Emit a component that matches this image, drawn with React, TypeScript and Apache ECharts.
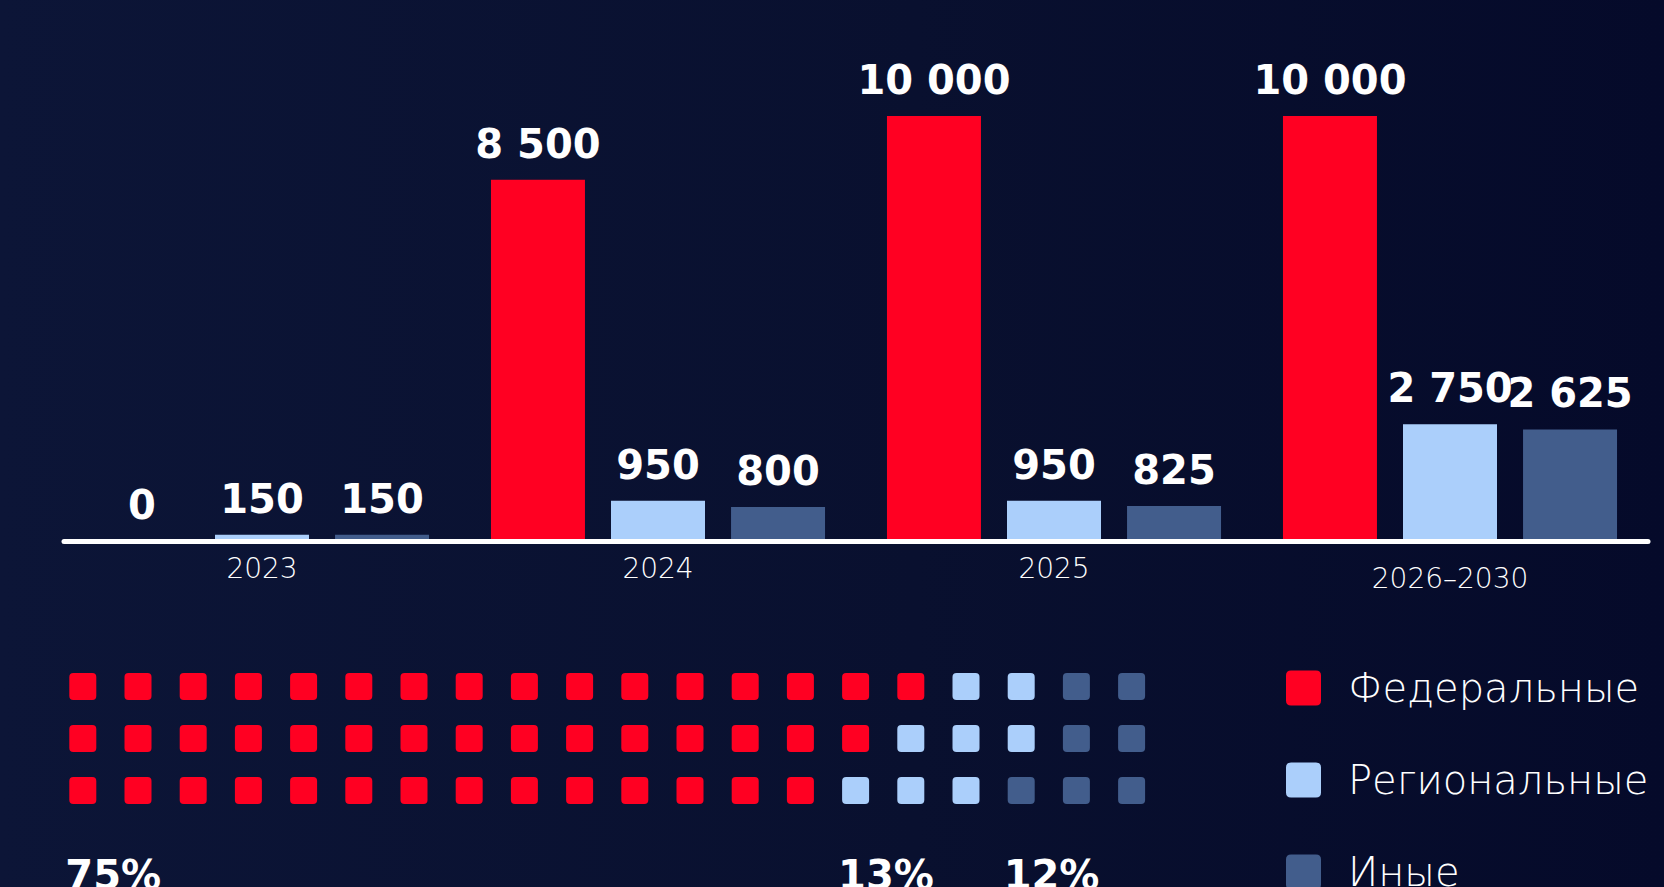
import React, { useEffect, useRef } from 'react';
import * as echarts from 'echarts';

// ---- data ----
const categories = ['2023', '2024', '2025', '2026–2030'];
const seriesNames = ['Федеральные', 'Региональные', 'Иные'];
const federal = [0, 8500, 10000, 10000];
const regional = [150, 950, 950, 2750];
const other = [150, 800, 825, 2625];
const waffleCounts = [45, 8, 7]; // cells per segment (out of 60)
const waffleColumns = 20;
const waffleRowsCount = 3;

const colors = ['#ff0022', '#abcffb', '#425d8c'];
const FONT = '"DejaVu Sans", "Noto Sans", sans-serif';

const fmt = (v: number) => String(v).replace(/\B(?=(\d{3})+(?!\d))/g, ' ');

// waffle layout: fill along anti-diagonals, bottom-left to top-right
function buildWaffle() {
  const cells: { col: number; row: number }[] = [];
  for (let c = 0; c < waffleColumns; c++)
    for (let r = 0; r < waffleRowsCount; r++) cells.push({ col: c, row: r });
  cells.sort((a, b) => a.col + a.row - (b.col + b.row) || b.row - a.row);
  const data: number[][] = [];
  let seg = 0;
  let used = 0;
  cells.forEach((cell) => {
    while (seg < waffleCounts.length - 1 && used >= waffleCounts[seg]) {
      seg++;
      used = 0;
    }
    data.push([cell.col, cell.row, seg]);
    used++;
  });
  return data;
}

export default function App() {
  const ref = useRef<HTMLDivElement>(null);
  useEffect(() => {
    if (!ref.current) return;
    const chart = echarts.init(ref.current, undefined, { renderer: 'svg' });
    const waffle = buildWaffle();
    const total = waffleCounts.reduce((a, b) => a + b, 0);
    const pctLabels = waffleCounts.map((c, i) => {
      const bottom = waffle.filter((d) => d[2] === i && d[1] === waffleRowsCount - 1);
      const col = Math.min(...bottom.map((d) => d[0]));
      return { col, text: Math.round((c / total) * 100) + '%' };
    });

    const barSeries = [federal, regional, other].map((vals, i) => ({
      name: seriesNames[i],
      type: 'bar',
      xAxisIndex: 0,
      yAxisIndex: 0,
      data: vals,
      barWidth: 94,
      barGap: '27.7%',
      itemStyle: { color: colors[i] },
      label: {
        show: true,
        position: 'top',
        distance: 16,
        color: '#ffffff',
        fontFamily: FONT,
        fontWeight: 'bold',
        fontSize: 40,
        formatter: (p: any) => fmt(p.value),
      },
    }));

    const iconPath = 'path://M5,0H30Q35,0 35,5V30Q35,35 30,35H5Q0,35 0,30V5Q0,0 5,0Z';

    chart.setOption({
      animation: false,
      backgroundColor: new echarts.graphic.LinearGradient(0, 0, 1, 0, [
        { offset: 0, color: '#0c1537' },
        { offset: 0.55, color: '#09102f' },
        { offset: 1, color: '#050a2a' },
      ]),
      grid: [
        { left: 64, right: 16, top: 116, bottom: 346 },
        { left: 55.2, width: 1104, top: 660.5, height: 156 },
      ],
      xAxis: [
        {
          type: 'category',
          gridIndex: 0,
          data: categories,
          z: 10,
          axisLine: { lineStyle: { color: '#ffffff', width: 5, cap: 'round' } },
          axisTick: { show: false },
          axisLabel: {
            color: '#ffffff',
            fontFamily: FONT,
            fontWeight: 200,
            fontSize: 28,
            margin: 13,
            formatter: (v: string) => (v.includes('–') ? `{low|${v}}` : v),
            rich: {
              low: {
                color: '#ffffff',
                fontFamily: FONT,
                fontWeight: 200,
                fontSize: 28,
                padding: [10, 0, 0, 0],
              },
            },
          },
        },
        {
          type: 'category',
          gridIndex: 1,
          data: Array.from({ length: waffleColumns }, (_, i) => String(i)),
          show: false,
        },
      ],
      yAxis: [
        { type: 'value', gridIndex: 0, min: 0, max: 10000, show: false },
        {
          type: 'category',
          gridIndex: 1,
          inverse: true,
          data: Array.from({ length: waffleRowsCount }, (_, i) => String(i)),
          show: false,
        },
      ],
      legend: {
        type: 'plain',
        data: seriesNames,
        orient: 'vertical',
        left: 1286,
        top: 668,
        height: 320,
        padding: 0,
        itemWidth: 35,
        itemHeight: 35,
        itemGap: 52,
        icon: iconPath,
        selectedMode: false,
        textStyle: {
          color: '#ffffff',
          fontFamily: FONT,
          fontWeight: 200,
          fontSize: 40,
          lineHeight: 35,
          padding: [0, 0, 0, 22],
        },
      },
      series: [
        ...barSeries,
        {
          type: 'custom',
          xAxisIndex: 1,
          yAxisIndex: 1,
          data: waffle,
          renderItem: (params: any, api: any) => {
            const c = api.coord([api.value(0), api.value(1)]);
            return {
              type: 'rect',
              shape: { x: c[0] - 13.5, y: c[1] - 13.5, width: 27, height: 27, r: 4 },
              style: { fill: colors[api.value(2)] },
            };
          },
        },
        {
          type: 'custom',
          xAxisIndex: 1,
          yAxisIndex: 1,
          data: pctLabels.map((p) => [p.col, waffleRowsCount - 1]),
          renderItem: (params: any, api: any) => {
            const c = api.coord([api.value(0), api.value(1)]);
            return {
              type: 'text',
              x: c[0] - 17.5,
              y: c[1] + 84.5,
              style: {
                text: pctLabels[params.dataIndex].text,
                fill: '#ffffff',
                fontFamily: FONT,
                fontWeight: 'bold',
                fontSize: 40,
                align: 'left',
                verticalAlign: 'middle',
              },
            };
          },
        },
      ],
    });
    return () => chart.dispose();
  }, []);

  return (
    <div
      ref={ref}
      style={{ position: 'fixed', left: 0, top: 0, width: '100vw', height: '100vh' }}
    />
  );
}
